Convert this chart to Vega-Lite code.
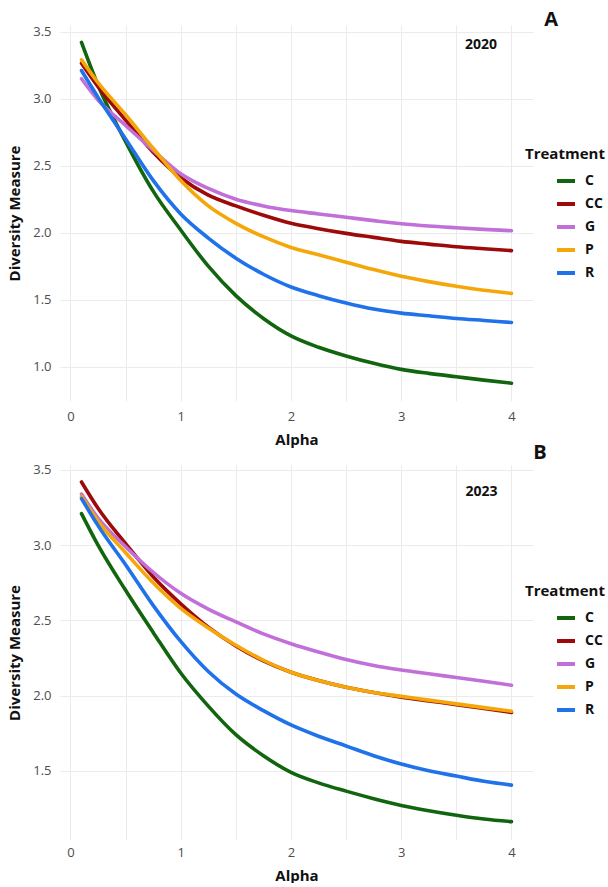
{
  "$schema": "https://vega.github.io/schema/vega-lite/v6.json",
  "background": "white",
  "padding": {"top": 10, "left": 7, "right": 0, "bottom": 0},
  "bounds": "flush",
  "spacing": 64,
  "config": {
    "font": "Open Sans",
    "view": {"stroke": null},
    "axis": {
      "domain": false, "ticks": false, "labelOverlap": false, "labelFlush": false,
      "gridColor": "#ebebeb", "gridWidth": 1,
      "labelColor": "#4d4d4d", "labelFontSize": 13, "labelFont": "Open Sans",
      "titleFontSize": 15, "titleFontWeight": "bold", "titleColor": "#111111", "titleFont": "Open Sans"
    },
    "legend": {
      "orient": "none",
      "titleFontSize": 15, "titleFontWeight": "bold", "titleColor": "#111111", "titlePadding": 8,
      "labelFontSize": 14, "labelFontWeight": "bold", "labelColor": "#111111", "labelOffset": 8,
      "symbolType": "stroke", "symbolStrokeWidth": 4, "symbolSize": 324, "symbolOffset": 30,
      "rowPadding": 4
    }
  },
  "resolve": {
    "scale": {"x": "independent", "y": "independent", "color": "independent"},
    "legend": {"color": "independent"}
  },
  "datasets": {
    "y2020": [
      {"alpha": 0.1, "treatment": "C", "diversity": 3.42},
      {"alpha": 0.25, "treatment": "C", "diversity": 3.10},
      {"alpha": 0.5, "treatment": "C", "diversity": 2.68},
      {"alpha": 0.75, "treatment": "C", "diversity": 2.31},
      {"alpha": 1, "treatment": "C", "diversity": 2.02},
      {"alpha": 1.25, "treatment": "C", "diversity": 1.75},
      {"alpha": 1.5, "treatment": "C", "diversity": 1.53},
      {"alpha": 1.75, "treatment": "C", "diversity": 1.36},
      {"alpha": 2, "treatment": "C", "diversity": 1.23},
      {"alpha": 2.25, "treatment": "C", "diversity": 1.145},
      {"alpha": 2.5, "treatment": "C", "diversity": 1.08},
      {"alpha": 2.75, "treatment": "C", "diversity": 1.025},
      {"alpha": 3, "treatment": "C", "diversity": 0.98},
      {"alpha": 3.25, "treatment": "C", "diversity": 0.95},
      {"alpha": 3.5, "treatment": "C", "diversity": 0.925},
      {"alpha": 3.75, "treatment": "C", "diversity": 0.90},
      {"alpha": 4, "treatment": "C", "diversity": 0.877},
      {"alpha": 0.1, "treatment": "CC", "diversity": 3.265},
      {"alpha": 0.25, "treatment": "CC", "diversity": 3.09},
      {"alpha": 0.5, "treatment": "CC", "diversity": 2.84},
      {"alpha": 0.75, "treatment": "CC", "diversity": 2.60},
      {"alpha": 1, "treatment": "CC", "diversity": 2.41},
      {"alpha": 1.25, "treatment": "CC", "diversity": 2.28},
      {"alpha": 1.5, "treatment": "CC", "diversity": 2.20},
      {"alpha": 1.75, "treatment": "CC", "diversity": 2.13},
      {"alpha": 2, "treatment": "CC", "diversity": 2.07},
      {"alpha": 2.25, "treatment": "CC", "diversity": 2.03},
      {"alpha": 2.5, "treatment": "CC", "diversity": 1.995},
      {"alpha": 2.75, "treatment": "CC", "diversity": 1.965},
      {"alpha": 3, "treatment": "CC", "diversity": 1.935},
      {"alpha": 3.25, "treatment": "CC", "diversity": 1.915},
      {"alpha": 3.5, "treatment": "CC", "diversity": 1.895},
      {"alpha": 3.75, "treatment": "CC", "diversity": 1.88},
      {"alpha": 4, "treatment": "CC", "diversity": 1.866},
      {"alpha": 0.1, "treatment": "G", "diversity": 3.149},
      {"alpha": 0.25, "treatment": "G", "diversity": 2.99},
      {"alpha": 0.5, "treatment": "G", "diversity": 2.80},
      {"alpha": 0.75, "treatment": "G", "diversity": 2.615},
      {"alpha": 1, "treatment": "G", "diversity": 2.44},
      {"alpha": 1.25, "treatment": "G", "diversity": 2.33},
      {"alpha": 1.5, "treatment": "G", "diversity": 2.25},
      {"alpha": 1.75, "treatment": "G", "diversity": 2.20},
      {"alpha": 2, "treatment": "G", "diversity": 2.165},
      {"alpha": 2.25, "treatment": "G", "diversity": 2.14},
      {"alpha": 2.5, "treatment": "G", "diversity": 2.115},
      {"alpha": 2.75, "treatment": "G", "diversity": 2.09},
      {"alpha": 3, "treatment": "G", "diversity": 2.067},
      {"alpha": 3.25, "treatment": "G", "diversity": 2.05},
      {"alpha": 3.5, "treatment": "G", "diversity": 2.037},
      {"alpha": 3.75, "treatment": "G", "diversity": 2.025},
      {"alpha": 4, "treatment": "G", "diversity": 2.015},
      {"alpha": 0.1, "treatment": "P", "diversity": 3.29},
      {"alpha": 0.25, "treatment": "P", "diversity": 3.12},
      {"alpha": 0.5, "treatment": "P", "diversity": 2.88},
      {"alpha": 0.75, "treatment": "P", "diversity": 2.63},
      {"alpha": 1, "treatment": "P", "diversity": 2.39},
      {"alpha": 1.25, "treatment": "P", "diversity": 2.20},
      {"alpha": 1.5, "treatment": "P", "diversity": 2.07},
      {"alpha": 1.75, "treatment": "P", "diversity": 1.97},
      {"alpha": 2, "treatment": "P", "diversity": 1.89},
      {"alpha": 2.25, "treatment": "P", "diversity": 1.835},
      {"alpha": 2.5, "treatment": "P", "diversity": 1.78},
      {"alpha": 2.75, "treatment": "P", "diversity": 1.725},
      {"alpha": 3, "treatment": "P", "diversity": 1.675},
      {"alpha": 3.25, "treatment": "P", "diversity": 1.635},
      {"alpha": 3.5, "treatment": "P", "diversity": 1.60},
      {"alpha": 3.75, "treatment": "P", "diversity": 1.57},
      {"alpha": 4, "treatment": "P", "diversity": 1.547},
      {"alpha": 0.1, "treatment": "R", "diversity": 3.21},
      {"alpha": 0.25, "treatment": "R", "diversity": 3.01},
      {"alpha": 0.5, "treatment": "R", "diversity": 2.70},
      {"alpha": 0.75, "treatment": "R", "diversity": 2.39},
      {"alpha": 1, "treatment": "R", "diversity": 2.14},
      {"alpha": 1.25, "treatment": "R", "diversity": 1.96},
      {"alpha": 1.5, "treatment": "R", "diversity": 1.81},
      {"alpha": 1.75, "treatment": "R", "diversity": 1.69},
      {"alpha": 2, "treatment": "R", "diversity": 1.595},
      {"alpha": 2.25, "treatment": "R", "diversity": 1.53},
      {"alpha": 2.5, "treatment": "R", "diversity": 1.475},
      {"alpha": 2.75, "treatment": "R", "diversity": 1.43},
      {"alpha": 3, "treatment": "R", "diversity": 1.40},
      {"alpha": 3.25, "treatment": "R", "diversity": 1.38},
      {"alpha": 3.5, "treatment": "R", "diversity": 1.36},
      {"alpha": 3.75, "treatment": "R", "diversity": 1.345},
      {"alpha": 4, "treatment": "R", "diversity": 1.33}
    ],
    "y2023": [
      {"alpha": 0.1, "treatment": "C", "diversity": 3.21},
      {"alpha": 0.25, "treatment": "C", "diversity": 3.00},
      {"alpha": 0.5, "treatment": "C", "diversity": 2.70},
      {"alpha": 0.75, "treatment": "C", "diversity": 2.42},
      {"alpha": 1, "treatment": "C", "diversity": 2.15},
      {"alpha": 1.25, "treatment": "C", "diversity": 1.93},
      {"alpha": 1.5, "treatment": "C", "diversity": 1.74},
      {"alpha": 1.75, "treatment": "C", "diversity": 1.60},
      {"alpha": 2, "treatment": "C", "diversity": 1.49},
      {"alpha": 2.25, "treatment": "C", "diversity": 1.42},
      {"alpha": 2.5, "treatment": "C", "diversity": 1.365},
      {"alpha": 2.75, "treatment": "C", "diversity": 1.315},
      {"alpha": 3, "treatment": "C", "diversity": 1.27},
      {"alpha": 3.25, "treatment": "C", "diversity": 1.235},
      {"alpha": 3.5, "treatment": "C", "diversity": 1.205},
      {"alpha": 3.75, "treatment": "C", "diversity": 1.18},
      {"alpha": 4, "treatment": "C", "diversity": 1.162},
      {"alpha": 0.1, "treatment": "CC", "diversity": 3.42},
      {"alpha": 0.25, "treatment": "CC", "diversity": 3.245},
      {"alpha": 0.5, "treatment": "CC", "diversity": 3.01},
      {"alpha": 0.75, "treatment": "CC", "diversity": 2.79},
      {"alpha": 1, "treatment": "CC", "diversity": 2.61},
      {"alpha": 1.25, "treatment": "CC", "diversity": 2.455},
      {"alpha": 1.5, "treatment": "CC", "diversity": 2.33},
      {"alpha": 1.75, "treatment": "CC", "diversity": 2.23},
      {"alpha": 2, "treatment": "CC", "diversity": 2.155},
      {"alpha": 2.25, "treatment": "CC", "diversity": 2.10},
      {"alpha": 2.5, "treatment": "CC", "diversity": 2.055},
      {"alpha": 2.75, "treatment": "CC", "diversity": 2.02},
      {"alpha": 3, "treatment": "CC", "diversity": 1.99},
      {"alpha": 3.25, "treatment": "CC", "diversity": 1.965},
      {"alpha": 3.5, "treatment": "CC", "diversity": 1.94},
      {"alpha": 3.75, "treatment": "CC", "diversity": 1.915},
      {"alpha": 4, "treatment": "CC", "diversity": 1.888},
      {"alpha": 0.1, "treatment": "G", "diversity": 3.34},
      {"alpha": 0.25, "treatment": "G", "diversity": 3.18},
      {"alpha": 0.5, "treatment": "G", "diversity": 2.99},
      {"alpha": 0.75, "treatment": "G", "diversity": 2.82},
      {"alpha": 1, "treatment": "G", "diversity": 2.68},
      {"alpha": 1.25, "treatment": "G", "diversity": 2.575},
      {"alpha": 1.5, "treatment": "G", "diversity": 2.49},
      {"alpha": 1.75, "treatment": "G", "diversity": 2.41},
      {"alpha": 2, "treatment": "G", "diversity": 2.345},
      {"alpha": 2.25, "treatment": "G", "diversity": 2.29},
      {"alpha": 2.5, "treatment": "G", "diversity": 2.24},
      {"alpha": 2.75, "treatment": "G", "diversity": 2.20},
      {"alpha": 3, "treatment": "G", "diversity": 2.17},
      {"alpha": 3.25, "treatment": "G", "diversity": 2.145},
      {"alpha": 3.5, "treatment": "G", "diversity": 2.12},
      {"alpha": 3.75, "treatment": "G", "diversity": 2.095},
      {"alpha": 4, "treatment": "G", "diversity": 2.069},
      {"alpha": 0.1, "treatment": "P", "diversity": 3.325},
      {"alpha": 0.25, "treatment": "P", "diversity": 3.16},
      {"alpha": 0.5, "treatment": "P", "diversity": 2.95},
      {"alpha": 0.75, "treatment": "P", "diversity": 2.75},
      {"alpha": 1, "treatment": "P", "diversity": 2.58},
      {"alpha": 1.25, "treatment": "P", "diversity": 2.45},
      {"alpha": 1.5, "treatment": "P", "diversity": 2.335},
      {"alpha": 1.75, "treatment": "P", "diversity": 2.235},
      {"alpha": 2, "treatment": "P", "diversity": 2.155},
      {"alpha": 2.25, "treatment": "P", "diversity": 2.10},
      {"alpha": 2.5, "treatment": "P", "diversity": 2.055},
      {"alpha": 2.75, "treatment": "P", "diversity": 2.02},
      {"alpha": 3, "treatment": "P", "diversity": 1.995},
      {"alpha": 3.25, "treatment": "P", "diversity": 1.97},
      {"alpha": 3.5, "treatment": "P", "diversity": 1.945},
      {"alpha": 3.75, "treatment": "P", "diversity": 1.92},
      {"alpha": 4, "treatment": "P", "diversity": 1.896},
      {"alpha": 0.1, "treatment": "R", "diversity": 3.31},
      {"alpha": 0.25, "treatment": "R", "diversity": 3.13},
      {"alpha": 0.5, "treatment": "R", "diversity": 2.87},
      {"alpha": 0.75, "treatment": "R", "diversity": 2.60},
      {"alpha": 1, "treatment": "R", "diversity": 2.36},
      {"alpha": 1.25, "treatment": "R", "diversity": 2.16},
      {"alpha": 1.5, "treatment": "R", "diversity": 2.01},
      {"alpha": 1.75, "treatment": "R", "diversity": 1.90},
      {"alpha": 2, "treatment": "R", "diversity": 1.805},
      {"alpha": 2.25, "treatment": "R", "diversity": 1.73},
      {"alpha": 2.5, "treatment": "R", "diversity": 1.665},
      {"alpha": 2.75, "treatment": "R", "diversity": 1.60},
      {"alpha": 3, "treatment": "R", "diversity": 1.545},
      {"alpha": 3.25, "treatment": "R", "diversity": 1.50},
      {"alpha": 3.5, "treatment": "R", "diversity": 1.465},
      {"alpha": 3.75, "treatment": "R", "diversity": 1.43},
      {"alpha": 4, "treatment": "R", "diversity": 1.405}
    ]
  },
  "vconcat": [
    {
      "width": 473,
      "height": 376,
      "resolve": {"axis": {"y": "independent"}},
      "layer": [
        {
          "data": {"name": "y2020"},
          "mark": {"type": "line", "strokeWidth": 3.6, "interpolate": "monotone", "strokeCap": "round"},
          "encoding": {
            "x": {
              "field": "alpha", "type": "quantitative",
              "scale": {"domain": [-0.095, 4.195], "nice": false, "zero": false},
              "axis": {"title": "Alpha", "values": [0, 0.5, 1, 1.5, 2, 2.5, 3, 3.5, 4], "labelExpr": "datum.value % 1 === 0 ? format(datum.value, 'd') : ''", "labelPadding": 9, "titlePadding": 9}
            },
            "y": {
              "field": "diversity", "type": "quantitative",
              "scale": {"domain": [0.744, 3.55], "nice": false, "zero": false},
              "axis": {"title": "Diversity Measure", "values": [1, 1.5, 2, 2.5, 3, 3.5], "format": ".1f", "labelPadding": 9, "titlePadding": 10}
            },
            "color": {
              "field": "treatment", "type": "nominal",
              "scale": {"domain": ["C", "CC", "G", "P", "R"], "range": ["#12650f", "#9c0a0a", "#c070d8", "#f5a70a", "#1f72ea"]},
              "legend": {"title": "Treatment", "legendX": 465, "legendY": 122}
            }
          }
        },
        {
          "data": {"values": [{"label": "2020"}]},
          "mark": {"type": "text", "fontSize": 14, "fontWeight": "bold", "color": "#111111", "align": "center", "baseline": "middle"},
          "encoding": {
            "x": {"datum": 3.723, "type": "quantitative"},
            "y": {"datum": 3.40, "type": "quantitative", "axis": {"title": null, "labels": false, "values": [0.75, 1.25, 1.75, 2.25, 2.75, 3.25]}},
            "text": {"field": "label"}
          }
        },
        {
          "data": {"values": [{"label": "A"}]},
          "mark": {"type": "text", "fontSize": 20, "fontWeight": "bold", "color": "#111111", "align": "center", "baseline": "middle"},
          "encoding": {
            "x": {"datum": 4.359, "type": "quantitative"},
            "y": {"datum": 3.587, "type": "quantitative", "axis": null},
            "text": {"field": "label"}
          }
        }
      ]
    },
    {
      "width": 473,
      "height": 375,
      "resolve": {"axis": {"y": "independent"}},
      "layer": [
        {
          "data": {"name": "y2023"},
          "mark": {"type": "line", "strokeWidth": 3.6, "interpolate": "monotone", "strokeCap": "round"},
          "encoding": {
            "x": {
              "field": "alpha", "type": "quantitative",
              "scale": {"domain": [-0.095, 4.195], "nice": false, "zero": false},
              "axis": {"title": "Alpha", "values": [0, 0.5, 1, 1.5, 2, 2.5, 3, 3.5, 4], "labelExpr": "datum.value % 1 === 0 ? format(datum.value, 'd') : ''", "labelPadding": 6, "titlePadding": 9}
            },
            "y": {
              "field": "diversity", "type": "quantitative",
              "scale": {"domain": [1.04, 3.533], "nice": false, "zero": false},
              "axis": {"title": "Diversity Measure", "values": [1.5, 2, 2.5, 3, 3.5], "format": ".1f", "labelPadding": 9, "titlePadding": 10}
            },
            "color": {
              "field": "treatment", "type": "nominal",
              "scale": {"domain": ["C", "CC", "G", "P", "R"], "range": ["#12650f", "#9c0a0a", "#c070d8", "#f5a70a", "#1f72ea"]},
              "legend": {"title": "Treatment", "legendX": 465, "legendY": 119}
            }
          }
        },
        {
          "data": {"values": [{"label": "2023"}]},
          "mark": {"type": "text", "fontSize": 14, "fontWeight": "bold", "color": "#111111", "align": "center", "baseline": "middle"},
          "encoding": {
            "x": {"datum": 3.728, "type": "quantitative"},
            "y": {"datum": 3.354, "type": "quantitative", "axis": {"title": null, "labels": false, "values": [1.25, 1.75, 2.25, 2.75, 3.25]}},
            "text": {"field": "label"}
          }
        },
        {
          "data": {"values": [{"label": "B"}]},
          "mark": {"type": "text", "fontSize": 20, "fontWeight": "bold", "color": "#111111", "align": "center", "baseline": "middle"},
          "encoding": {
            "x": {"datum": 4.259, "type": "quantitative"},
            "y": {"datum": 3.613, "type": "quantitative", "axis": null},
            "text": {"field": "label"}
          }
        }
      ]
    }
  ]
}
